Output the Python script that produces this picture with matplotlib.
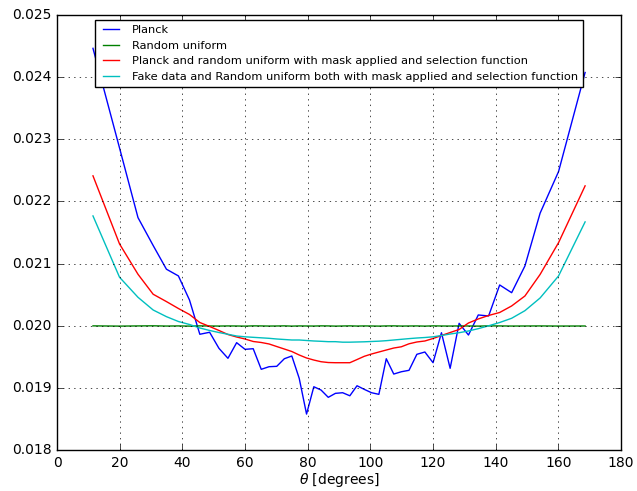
import matplotlib
matplotlib.use('Agg')
import matplotlib.pyplot as plt

# bin centres (degrees) - uniform in cos(theta)
theta = [11.48, 19.95, 25.84, 30.68, 34.92, 38.74, 42.27, 45.57, 48.70, 51.68,
         54.55, 57.32, 60.00, 62.61, 65.17, 67.67, 70.12, 72.54, 74.93, 77.29,
         79.63, 81.95, 84.26, 86.56, 88.85, 91.15, 93.44, 95.74, 98.05, 100.37,
         102.71, 105.07, 107.46, 109.88, 112.33, 114.83, 117.39, 120.00, 122.68, 125.45,
         128.32, 131.30, 134.43, 137.73, 141.26, 145.08, 149.32, 154.16, 160.05, 168.52]

planck = [0.02446, 0.02286, 0.021741, 0.021293, 0.020912, 0.020804, 0.020418, 0.019867, 0.019899, 0.019641,
          0.019481, 0.019732, 0.019625, 0.019635, 0.019304, 0.019346, 0.019352, 0.019474, 0.019518, 0.019159,
          0.018585, 0.019024, 0.018971, 0.018854, 0.018918, 0.018928, 0.018879, 0.019040, 0.018982, 0.018928,
          0.018902, 0.019474, 0.019228, 0.019265, 0.019288, 0.019545, 0.019582, 0.019410, 0.019892, 0.019320,
          0.020043, 0.019855, 0.020177, 0.020161, 0.020659, 0.020535, 0.020965, 0.021812, 0.022481, 0.024072]

random_uniform = [0.020002, 0.019998, 0.020001, 0.020003, 0.019999, 0.020001, 0.019998, 0.020002, 0.020000, 0.019999,
                  0.020001, 0.020000, 0.019998, 0.020002, 0.020001, 0.019999, 0.020000, 0.020002, 0.019998, 0.020001,
                  0.020000, 0.019999, 0.020002, 0.020001, 0.019998, 0.020000, 0.020002, 0.019999, 0.020001, 0.020000,
                  0.019998, 0.020001, 0.020002, 0.019999, 0.020000, 0.020001, 0.019998, 0.020002, 0.020000, 0.019999,
                  0.020001, 0.020000, 0.019998, 0.020002, 0.020001, 0.019999, 0.020000, 0.020001, 0.019999, 0.020000]

planck_masked = [0.022412, 0.021318, 0.020831, 0.020510, 0.020392, 0.020281, 0.020185, 0.020056, 0.019992, 0.019928,
                 0.019863, 0.019823, 0.019791, 0.019751, 0.019735, 0.019711, 0.019670, 0.019630, 0.019590, 0.019534,
                 0.019486, 0.019453, 0.019426, 0.019413, 0.019410, 0.019410, 0.019410, 0.019461, 0.019513, 0.019550,
                 0.019582, 0.019614, 0.019646, 0.019666, 0.019714, 0.019743, 0.019759, 0.019799, 0.019847, 0.019895,
                 0.019944, 0.020048, 0.020113, 0.020169, 0.020217, 0.020322, 0.020482, 0.020828, 0.021339, 0.022251]

fake_masked = [0.021768, 0.020783, 0.020461, 0.020257, 0.020150, 0.020072, 0.020024, 0.019968, 0.019928, 0.019895,
               0.019867, 0.019839, 0.019826, 0.019818, 0.019810, 0.019802, 0.019791, 0.019783, 0.019775, 0.019775,
               0.019767, 0.019759, 0.019754, 0.019748, 0.019748, 0.019740, 0.019740, 0.019743, 0.019746, 0.019751,
               0.019756, 0.019764, 0.019775, 0.019786, 0.019797, 0.019807, 0.019815, 0.019826, 0.019847, 0.019871,
               0.019892, 0.019920, 0.019957, 0.020003, 0.020056, 0.020124, 0.020246, 0.020450, 0.020804, 0.021672]

plt.style.use('classic')
plt.rcParams['mathtext.fontset'] = 'dejavusans'

fig = plt.figure(figsize=(6.37, 4.91), dpi=100)
ax = fig.add_axes([0.0895, 0.0825, 0.8855, 0.8875])

ax.plot(theta, planck, 'b', label='Planck')
ax.plot(theta, random_uniform, 'g', label='Random uniform')
ax.plot(theta, planck_masked, 'r', label='Planck and random uniform with mask applied and selection function')
ax.plot(theta, fake_masked, 'c', label='Fake data and Random uniform both with mask applied and selection function')

ax.set_xlim(0, 180)
ax.set_ylim(0.018, 0.025)
ax.tick_params(labelsize=10)
ax.set_xlabel(r'$\theta$ [degrees]', fontsize=10, labelpad=1)
ax.grid(True)
ax.legend(loc='upper center', fontsize=8.2)

fig.savefig('out.png', dpi=100)
